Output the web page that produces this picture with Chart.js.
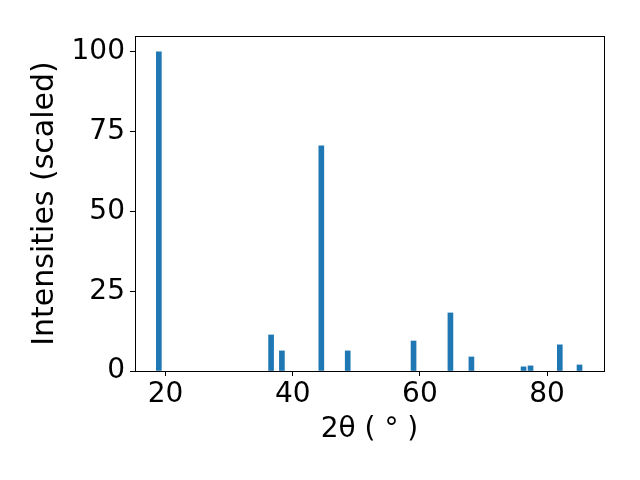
<!DOCTYPE html>
<html>
<head>
<meta charset="utf-8">
<script src="https://cdn.jsdelivr.net/npm/chart.js@4"></script>
<style>
  html, body { margin: 0; padding: 0; background: #fff; }
  #c { display: block; }
</style>
</head>
<body>
<canvas id="c" width="640" height="480"></canvas>
<script>
// pic positions (2theta, deg) et intensites relatives
const positions   = [18.95, 36.6, 38.3, 44.5, 48.65, 59.0, 64.8, 68.1, 76.3, 77.4, 82.0, 85.1];
const intensites  = [100, 11.3, 6.3, 70.6, 6.3, 9.4, 18.2, 4.4, 1.3, 1.6, 8.2, 1.9];
const ticksX = [20, 40, 60, 80];
const ticksY = [0, 25, 50, 75, 100];

const police = { family: 'DejaVu Sans', size: 28 };

const cadre = {
  id: 'cadre',
  afterDraw(chart) {
    const { ctx, chartArea: a } = chart;
    ctx.save();
    ctx.strokeStyle = '#000';
    ctx.lineWidth = 1;
    ctx.strokeRect(Math.round(a.left) + 0.5, Math.round(a.top) + 0.5,
                   Math.round(a.right - a.left), Math.round(a.bottom - a.top));
    ctx.restore();
  }
};

new Chart(document.getElementById('c'), {
  type: 'bar',
  data: {
    datasets: [{
      data: positions.map((x, i) => ({ x, y: intensites[i] })),
      backgroundColor: '#1f77b4',
      borderWidth: 0,
      barThickness: 5
    }]
  },
  options: {
    responsive: false,
    animation: false,
    layout: { padding: { top: 36, right: 36, left: 0, bottom: 0 } },
    plugins: { legend: { display: false }, tooltip: { enabled: false } },
    scales: {
      x: {
        type: 'linear',
        offset: false,
        min: 15.2,
        max: 88.95,
        afterBuildTicks: (s) => { s.ticks = ticksX.map(v => ({ value: v })); },
        afterFit: (s) => { s.height = 109; },
        ticks: { color: '#000', font: police, padding: 2, maxRotation: 0 },
        grid: { display: true, offset: false, drawOnChartArea: false, drawTicks: true, tickLength: 5, color: '#000' },
        border: { display: false },
        title: { display: true, text: '2θ ( ° )', color: '#000', font: police, padding: { top: 0, bottom: 33 } }
      },
      y: {
        min: 0,
        max: 105,
        afterBuildTicks: (s) => { s.ticks = ticksY.map(v => ({ value: v })); },
        afterFit: (s) => { s.width = 135; },
        ticks: { color: '#000', font: police, padding: 5 },
        grid: { display: true, drawOnChartArea: false, drawTicks: true, tickLength: 5, color: '#000' },
        border: { display: false },
        title: { display: true, text: 'Intensities (scaled)', color: '#000', font: { family: 'DejaVu Sans', size: 30 }, padding: { top: 27, bottom: 0 } }
      }
    }
  },
  plugins: [cadre]
});
</script>
</body>
</html>
